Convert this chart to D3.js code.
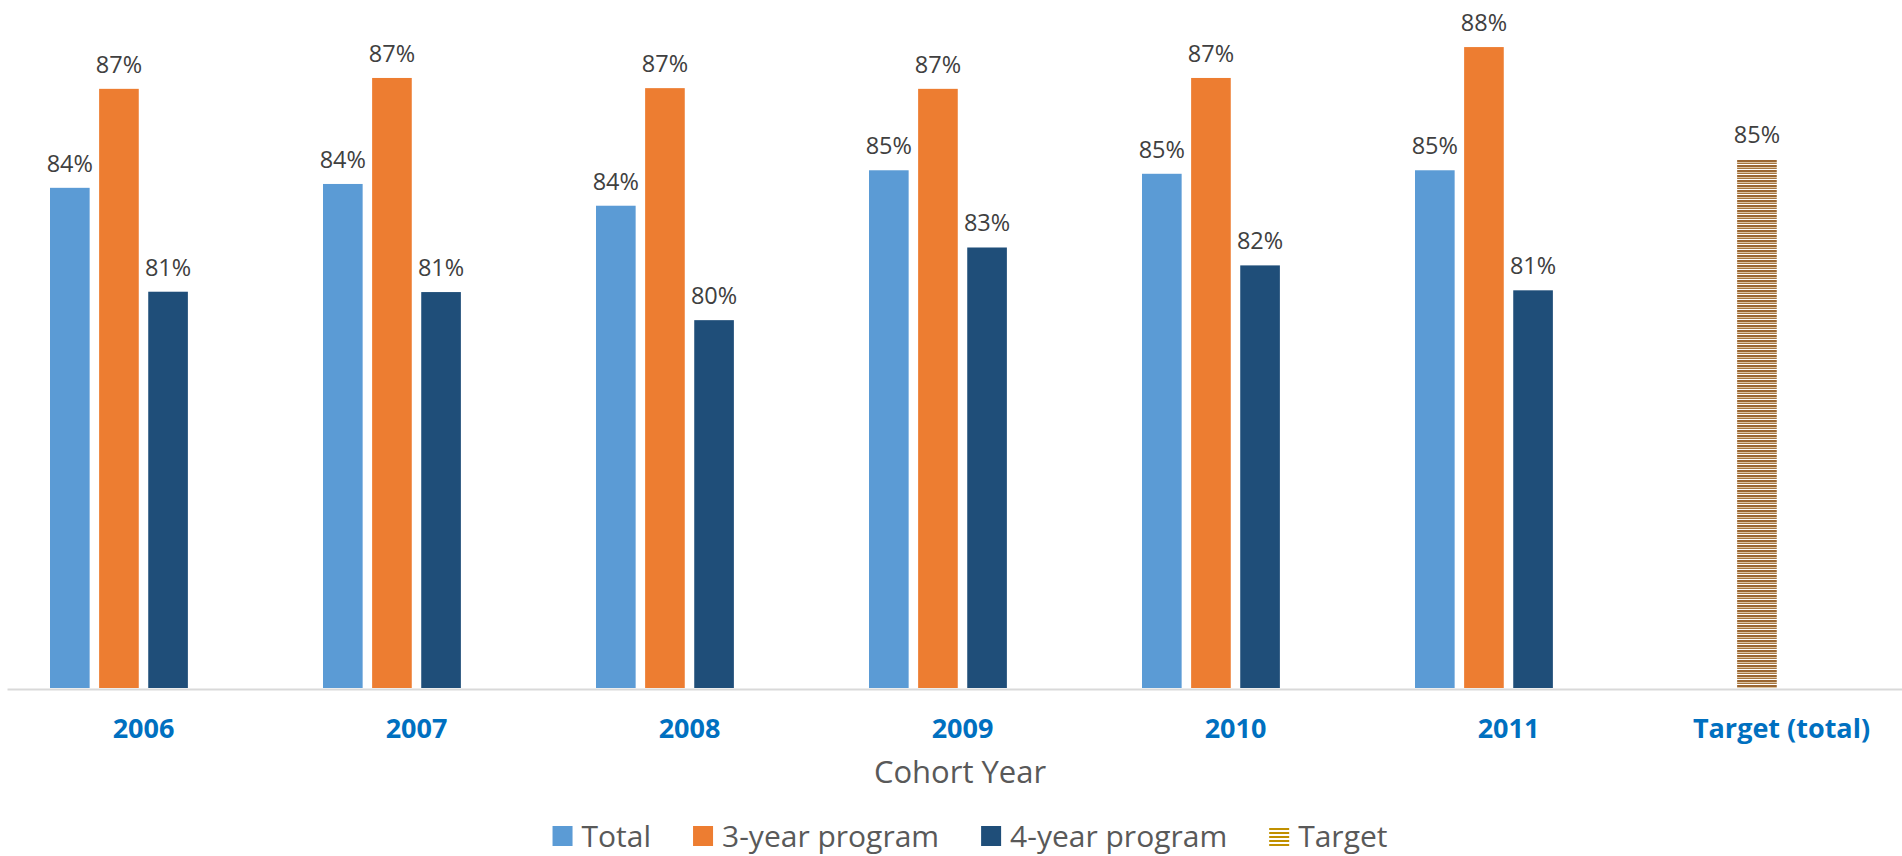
<!DOCTYPE html>
<html>
<head>
<meta charset="utf-8">
<script src="https://cdn.jsdelivr.net/npm/d3@7/dist/d3.min.js"></script>
<style>
  html, body { margin: 0; padding: 0; background: #fff; }
  svg { display: block; }
  text { font-family: "Open Sans", sans-serif; }
</style>
</head>
<body>
<svg id="chart" width="1902" height="856"></svg>
<script>
const categories = ["2006", "2007", "2008", "2009", "2010", "2011", "Target (total)"];
const seriesNames = ["Total", "3-year program", "4-year program", "Target"];
const totalValues = [84.25, 84.36, 83.74, 84.75, 84.65, 84.75, null];
const threeYearValues = [87.07, 87.38, 87.09, 87.07, 87.38, 88.26, null];
const fourYearValues = [81.29, 81.28, 80.48, 82.55, 82.04, 81.33, null];
const targetValues = [null, null, null, null, null, null, 85.07];
const axisTitle = "Cohort Year";

const colors = {
  "Total": "#5B9BD5",
  "3-year program": "#ED7D31",
  "4-year program": "#1F4E79",
  "Target": "url(#targetPattern)"
};

const svg = d3.select("#chart");
const defs = svg.append("defs");

// striped pattern for target bar
const pat = defs.append("pattern")
  .attr("id", "targetPattern")
  .attr("patternUnits", "userSpaceOnUse")
  .attr("width", 8).attr("height", 5);
pat.append("rect").attr("width", 8).attr("height", 5).attr("fill", "#ffffff");
pat.append("rect").attr("y", 0).attr("width", 8).attr("height", 2).attr("fill", "#9A6632");
pat.append("rect").attr("y", 2).attr("width", 8).attr("height", 1).attr("fill", "#DCC3A0");
pat.append("rect").attr("y", 3).attr("width", 8).attr("height", 1).attr("fill", "#A8773F");

const legendPat = defs.append("pattern")
  .attr("id", "legendPattern")
  .attr("patternUnits", "userSpaceOnUse")
  .attr("width", 8).attr("height", 4);
legendPat.append("rect").attr("width", 8).attr("height", 4).attr("fill", "#ffffff");
legendPat.append("rect").attr("width", 8).attr("height", 2).attr("fill", "#C09000");

const x0 = d3.scaleBand().domain(categories).range([7, 1918]);
const x1 = d3.scaleBand().domain(seriesNames).range([43, 230]).paddingInner(0.193);
const y = d3.scaleLinear().domain([70, 90]).range([688, -14]);

const seriesData = {
  "Total": totalValues,
  "3-year program": threeYearValues,
  "4-year program": fourYearValues,
  "Target": targetValues
};
// the target series is drawn in the second slot of its group
const slotOf = { "Total": "Total", "3-year program": "3-year program", "4-year program": "4-year program", "Target": "3-year program" };

const fmt = d3.format(".0%");

const bars = [];
seriesNames.forEach(s => {
  seriesData[s].forEach((v, i) => {
    if (v != null) bars.push({ series: s, cat: categories[i], value: v });
  });
});

// axis
const axisG = svg.append("g")
  .attr("transform", "translate(0,689)")
  .call(d3.axisBottom(x0).tickSize(0).tickSizeOuter(0));
axisG.select(".domain").attr("stroke", "#D9D9D9").attr("stroke-width", 2);
axisG.selectAll("text")
  .attr("y", 49).attr("dy", 0)
  .style("font-family", "'Open Sans', sans-serif")
  .style("font-size", "27px")
  .style("font-weight", "bold")
  .attr("fill", "#0070C0");

const g = svg.append("g");
g.selectAll("rect.bar")
  .data(bars)
  .join("rect")
  .attr("class", "bar")
  .attr("x", d => x0(d.cat) + x1(slotOf[d.series]))
  .attr("width", x1.bandwidth())
  .attr("y", d => y(d.value))
  .attr("height", d => y(70) - y(d.value))
  .attr("fill", d => colors[d.series]);

g.selectAll("text.val")
  .data(bars)
  .join("text")
  .attr("class", "val")
  .attr("x", d => x0(d.cat) + x1(slotOf[d.series]) + x1.bandwidth() / 2)
  .attr("y", d => y(d.value) - 16)
  .attr("text-anchor", "middle")
  .attr("font-size", 23.5)
  .attr("fill", "#404040")
  .text(d => fmt(d.value / 100));

svg.append("text")
  .attr("x", 960)
  .attr("y", 783)
  .attr("text-anchor", "middle")
  .attr("font-size", 31)
  .attr("fill", "#595959")
  .text(axisTitle);

// legend
const legendG = svg.append("g");
const legendColors = {
  "Total": "#5B9BD5",
  "3-year program": "#ED7D31",
  "4-year program": "#1F4E79",
  "Target": "url(#legendPattern)"
};
let lx = 0;
const items = [];
seriesNames.forEach(s => {
  const it = legendG.append("g");
  it.append("rect")
    .attr("x", 0).attr("y", 826).attr("width", 20).attr("height", 20)
    .attr("fill", legendColors[s]);
  const t = it.append("text")
    .attr("x", 29).attr("y", 847)
    .attr("font-size", 30)
    .attr("fill", "#595959")
    .text(s);
  const w = 29 + t.node().getComputedTextLength();
  items.push({ it, w });
});
const gap = 42;
const totalW = d3.sum(items, d => d.w) + gap * (items.length - 1);
lx = 970 - totalW / 2;
items.forEach(d => {
  d.it.attr("transform", `translate(${lx},0)`);
  lx += d.w + gap;
});
</script>
</body>
</html>
